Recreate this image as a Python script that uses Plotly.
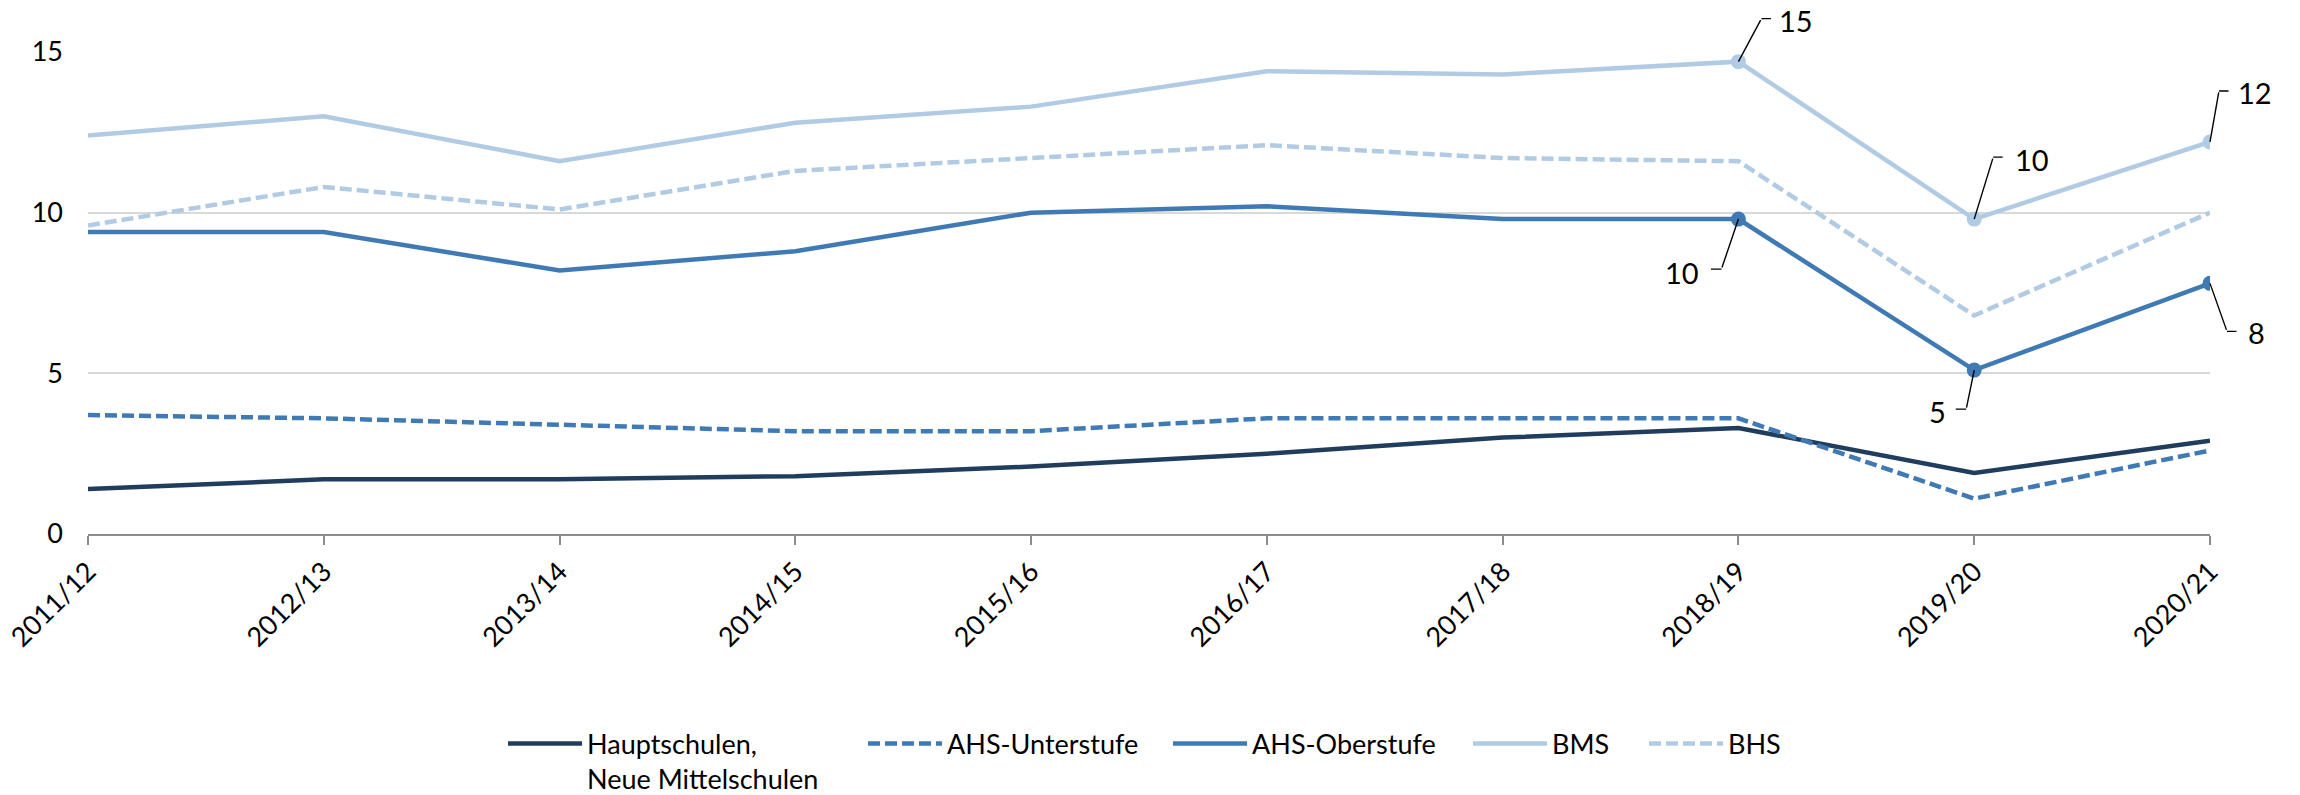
import plotly.graph_objects as go

# School years on the category axis
years = ["2011/12", "2012/13", "2013/14", "2014/15", "2015/16",
         "2016/17", "2017/18", "2018/19", "2019/20", "2020/21"]

# Series values per school year
hauptschulen = [1.4, 1.7, 1.7, 1.8, 2.1, 2.5, 3.0, 3.3, 1.9, 2.9]
ahs_unterstufe = [3.7, 3.6, 3.4, 3.2, 3.2, 3.6, 3.6, 3.6, 1.1, 2.6]
ahs_oberstufe = [9.4, 9.4, 8.2, 8.8, 10.0, 10.2, 9.8, 9.8, 5.1, 7.8]
bms = [12.4, 13.0, 11.6, 12.8, 13.3, 14.4, 14.3, 14.7, 9.8, 12.2]
bhs = [9.6, 10.8, 10.1, 11.3, 11.7, 12.1, 11.7, 11.6, 6.8, 10.0]

series_names = ["Hauptschulen,<br>Neue Mittelschulen", "AHS-Unterstufe",
                "AHS-Oberstufe", "BMS", "BHS"]

# Indices of the points that carry a marker and a value label
labelled_idx = [7, 8, 9]

FONT = "Lato, 'Open Sans', 'Liberation Sans', sans-serif"
DARK = "#203d5e"
MID = "#407ab5"
LIGHT = "#b1cbe4"
DASH = "12px,5px"

# Plot area in pixels
W, H = 2300, 795
M_L, M_R, M_T, M_B = 88, 90, 52, 261
PLOT_W = W - M_L - M_R

styles = [
    dict(color=DARK, dash="solid"),
    dict(color=MID, dash=DASH),
    dict(color=MID, dash="solid"),
    dict(color=LIGHT, dash="solid"),
    dict(color=LIGHT, dash=DASH),
]
values = [hauptschulen, ahs_unterstufe, ahs_oberstufe, bms, bhs]
legend_ids = ["legend", "legend2", "legend3", "legend4", "legend5"]
# left edge of each legend entry, in pixels
legend_left_px = [503, 863, 1168, 1468, 1644]

fig = go.Figure()
for name, vals, st, lid in zip(series_names, values, styles, legend_ids):
    fig.add_trace(go.Scatter(
        x=years, y=vals, name=name, mode="lines", legend=lid,
        line=dict(color=st["color"], width=4.5, dash=st["dash"]),
        hoverinfo="x+y",
    ))

# Markers on the labelled points of AHS-Oberstufe and BMS
for vals, color in [(ahs_oberstufe, MID), (bms, LIGHT)]:
    fig.add_trace(go.Scatter(
        x=[years[i] for i in labelled_idx], y=[vals[i] for i in labelled_idx],
        mode="markers", marker=dict(color=color, size=15),
        showlegend=False, hoverinfo="x+y",
    ))

# Callout geometry (pixels): elbow offset, horizontal stub length, text offset
callouts = {
    "bms": [((23, -43), 11, (58, -41)),
            ((19, -62), 11, (58, -60)),
            ((9, -51), 11, (45, -49))],
    "ahs_o": [((-17, 50), -12, (-56, 53)),
              ((-8, 39), -12, (-37, 41)),
              ((17, 48), 11, (46, 49))],
}

annotations = []
for key, vals in [("bms", bms), ("ahs_o", ahs_oberstufe)]:
    for i, (elbow, stub, txt) in zip(labelled_idx, callouts[key]):
        x, y = years[i], vals[i]
        # leader line from the point to the elbow
        annotations.append(dict(
            x=x, y=y, xref="x", yref="y", text="", showarrow=True,
            ax=elbow[0], ay=elbow[1], arrowhead=0, arrowwidth=1.4,
            arrowcolor="black", standoff=0, startstandoff=0,
        ))
        # short horizontal stub at the elbow
        annotations.append(dict(
            x=x, y=y, xref="x", yref="y", text="", showarrow=True,
            xshift=elbow[0], yshift=-elbow[1], ax=stub, ay=0,
            arrowhead=0, arrowwidth=1.4, arrowcolor="black",
            standoff=0, startstandoff=0,
        ))
        # value label
        annotations.append(dict(
            x=x, y=y, xref="x", yref="y", text=f"{y:.0f}", showarrow=False,
            xshift=txt[0], yshift=-txt[1], xanchor="center", yanchor="middle",
            font=dict(family=FONT, size=29, color="black"),
        ))

legend_style = dict(
    orientation="h", xanchor="left", y=-0.385, yanchor="top",
    font=dict(family=FONT, size=27, color="black"),
    valign="top", itemwidth=74, bgcolor="rgba(0,0,0,0)",
)
legends = {}
for lid, px in zip(legend_ids, legend_left_px):
    legends[lid] = dict(legend_style, x=(px - M_L) / PLOT_W)

fig.update_layout(
    width=W, height=H,
    margin=dict(l=M_L, r=M_R, t=M_T, b=M_B, autoexpand=False),
    paper_bgcolor="white", plot_bgcolor="white",
    font=dict(family=FONT, size=27, color="black"),
    annotations=annotations,
    showlegend=True,
    xaxis=dict(
        type="category", range=[0, len(years) - 1], automargin=False,
        showgrid=False, showline=True, linecolor="#8c8c8c", linewidth=2,
        ticks="outside", ticklen=9, tickwidth=1.5, tickcolor="#8c8c8c",
        tickangle=-45, tickfont=dict(family=FONT, size=27, color="black"),
        zeroline=False,
    ),
    yaxis=dict(
        range=[0, 15], tickvals=[0, 5, 10, 15], showgrid=True, automargin=False,
        gridcolor="#d9d9d9", gridwidth=1.5, zeroline=False, showline=False,
        ticks="", ticklabelstandoff=24,
        tickfont=dict(family=FONT, size=27, color="black"),
    ),
    **legends,
)

fig.write_html("out.html")
